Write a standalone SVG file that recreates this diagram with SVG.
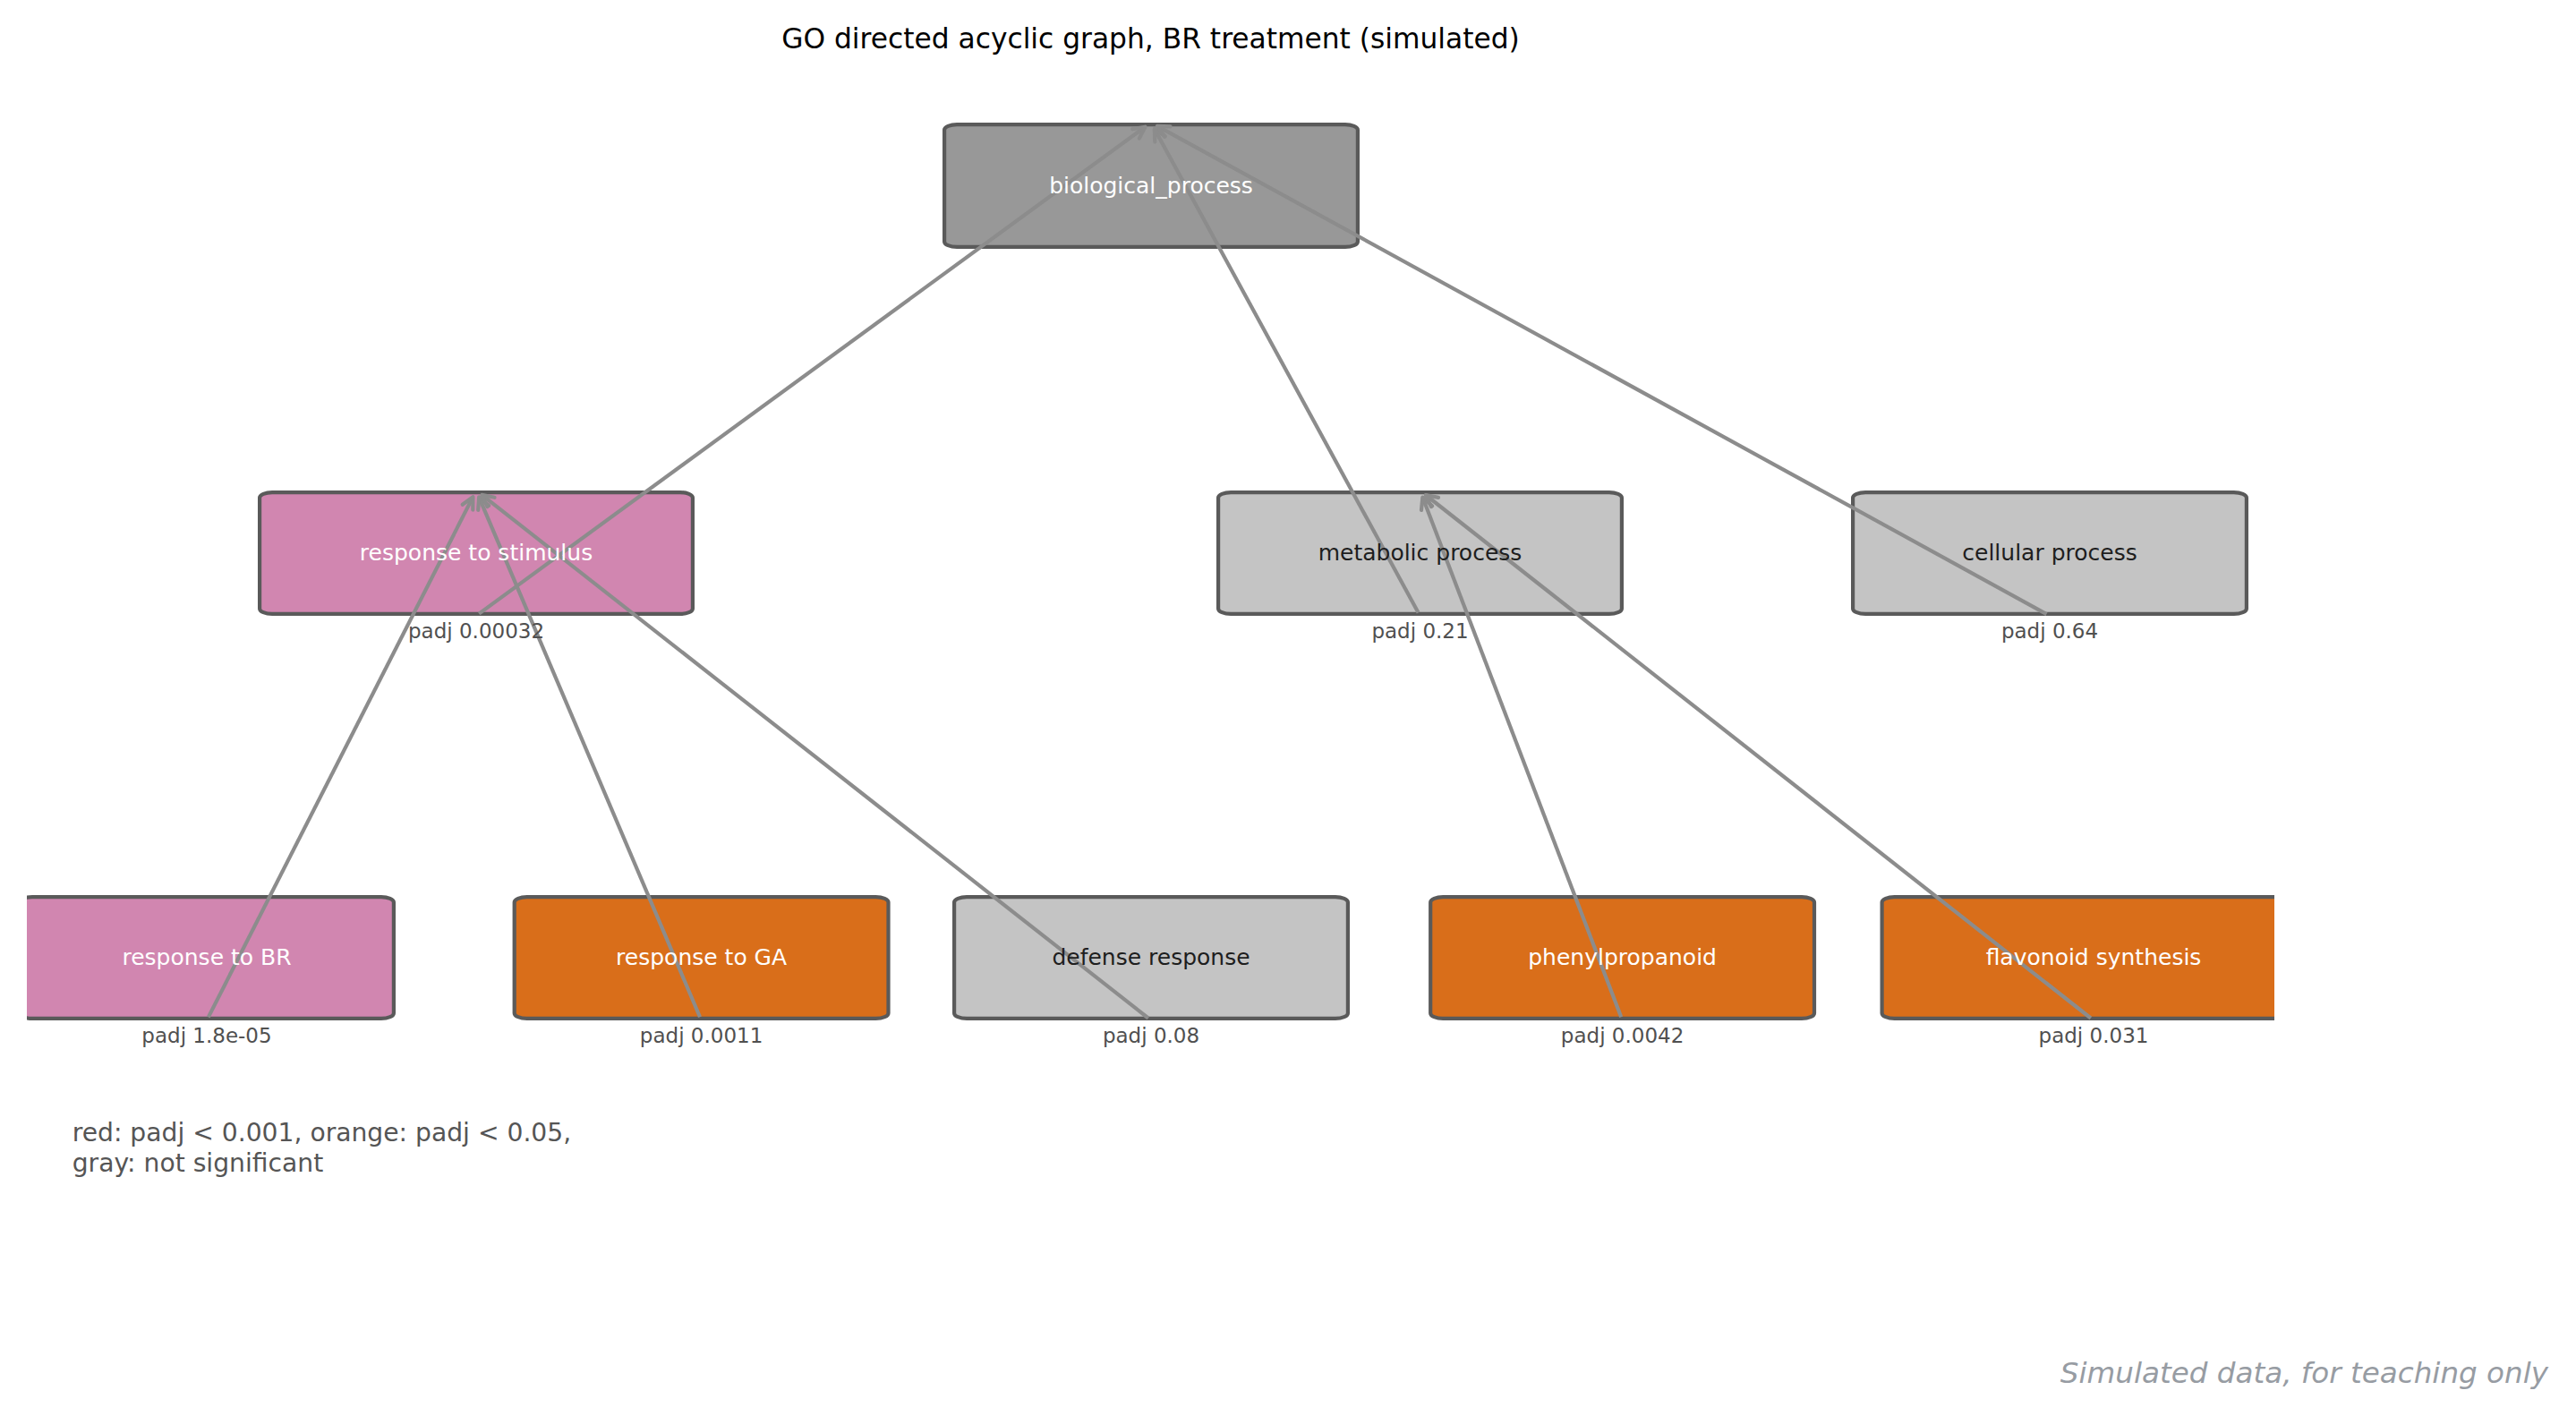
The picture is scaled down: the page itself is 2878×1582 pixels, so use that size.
<svg xmlns="http://www.w3.org/2000/svg" width="2878" height="1582" viewBox="0 0 2878 1582">
<defs>
<style>
text{font-family:"DejaVu Sans","Liberation Sans",sans-serif}
.box{stroke:#5a5a5a;stroke-width:4.2}
.bio{fill:#989898}
.gray{fill:#c4c4c4}
.pink{fill:#d186b0}
.orange{fill:#d96e1a}
.lbl{font-size:25px;text-anchor:middle}
.lw{fill:#ffffff}
.ld{fill:#1e1e1e}
.padj{font-size:23px;text-anchor:middle;fill:#505050}
.edge{stroke:#8c8c8c;stroke-width:4.2;fill:none;stroke-linecap:butt}
.title{font-size:31.3px;text-anchor:middle;fill:#000}
.legend{font-size:28.2px;fill:#555555}
.foot{font-size:32.6px;font-style:italic;text-anchor:end;fill:#979ca3}
</style>
<marker id="arr" markerUnits="userSpaceOnUse" markerWidth="30" markerHeight="30" refX="0" refY="0" orient="auto" overflow="visible" viewBox="-20 -15 30 30">
<path d="M-13,-6.5 L0,0 L-13,6.5" fill="none" stroke="#8c8c8c" stroke-width="4.2" stroke-linecap="round" stroke-linejoin="round"/>
</marker>
<clipPath id="ax"><rect x="30" y="80" width="2511" height="1420"/></clipPath>
</defs>
<rect width="2878" height="1582" fill="#ffffff"/>
<text class="title" x="1285.5" y="54">GO directed acyclic graph, BR treatment (simulated)</text>
<g clip-path="url(#ax)">
<g id="boxes">
<g id="n-bio"><rect class="box bio" x="1055.1" y="139.1" width="461.8" height="136.8" rx="14" ry="6"/></g>
<g id="n-stim"><rect class="box pink" x="290.1" y="550.1" width="483.8" height="135.8" rx="14" ry="6"/></g>
<g id="n-metab"><rect class="box gray" x="1361.1" y="550.1" width="450.8" height="135.8" rx="14" ry="6"/></g>
<g id="n-cell"><rect class="box gray" x="2070.1" y="550.1" width="439.8" height="135.8" rx="14" ry="6"/></g>
<g id="n-br"><rect class="box pink" x="22.1" y="1002.1" width="417.8" height="135.8" rx="14" ry="6"/></g>
<g id="n-ga"><rect class="box orange" x="574.7" y="1002.1" width="417.8" height="135.8" rx="14" ry="6"/></g>
<g id="n-def"><rect class="box gray" x="1066.1" y="1002.1" width="439.8" height="135.8" rx="14" ry="6"/></g>
<g id="n-phen"><rect class="box orange" x="1598.2" y="1002.1" width="428.8" height="135.8" rx="14" ry="6"/></g>
<g id="n-flav"><rect class="box orange" x="2102.6" y="1002.1" width="472.8" height="135.8" rx="14" ry="6"/></g>
</g>
<g id="connectors">
<line class="edge" x1="535.2" y1="685.6" x2="1279.5" y2="141.7" marker-end="url(#arr)"/>
<line class="edge" x1="1584.6" y1="684.5" x2="1289.8" y2="144.0" marker-end="url(#arr)"/>
<line class="edge" x1="2286.5" y1="686.1" x2="1293.0" y2="140.8" marker-end="url(#arr)"/>
<line class="edge" x1="232.8" y1="1136.4" x2="528.4" y2="555.1" marker-end="url(#arr)"/>
<line class="edge" x1="782.0" y1="1136.3" x2="535.1" y2="555.4" marker-end="url(#arr)"/>
<line class="edge" x1="1282.9" y1="1137.5" x2="538.3" y2="552.9" marker-end="url(#arr)"/>
<line class="edge" x1="1811.2" y1="1136.3" x2="1589.4" y2="555.5" marker-end="url(#arr)"/>
<line class="edge" x1="2335.9" y1="1137.5" x2="1592.8" y2="553.0" marker-end="url(#arr)"/>
</g>
<g id="labels">
<text class="lbl lw" x="1286" y="215.5">biological_process</text>
<text class="lbl lw" x="532" y="626">response to stimulus</text>
<text class="padj" x="532" y="713">padj 0.00032</text>
<text class="lbl ld" x="1586.5" y="626">metabolic process</text>
<text class="padj" x="1586.5" y="713">padj 0.21</text>
<text class="lbl ld" x="2290" y="626">cellular process</text>
<text class="padj" x="2290" y="713">padj 0.64</text>
<text class="lbl lw" x="231" y="1078">response to BR</text>
<text class="padj" x="231" y="1165">padj 1.8e-05</text>
<text class="lbl lw" x="783.6" y="1078">response to GA</text>
<text class="padj" x="783.6" y="1165">padj 0.0011</text>
<text class="lbl ld" x="1286" y="1078">defense response</text>
<text class="padj" x="1286" y="1165">padj 0.08</text>
<text class="lbl lw" x="1812.6" y="1078">phenylpropanoid</text>
<text class="padj" x="1812.6" y="1165">padj 0.0042</text>
<text class="lbl lw" x="2339" y="1078">flavonoid synthesis</text>
<text class="padj" x="2339" y="1165">padj 0.031</text>
</g>
</g>
<g id="legend">
<text class="legend" x="80.7" y="1275">red: padj &lt; 0.001, orange: padj &lt; 0.05,</text>
<text class="legend" x="80.7" y="1308.5">gray: not significant</text>
</g>
<text class="foot" x="2847" y="1545">Simulated data, for teaching only</text>
</svg>
